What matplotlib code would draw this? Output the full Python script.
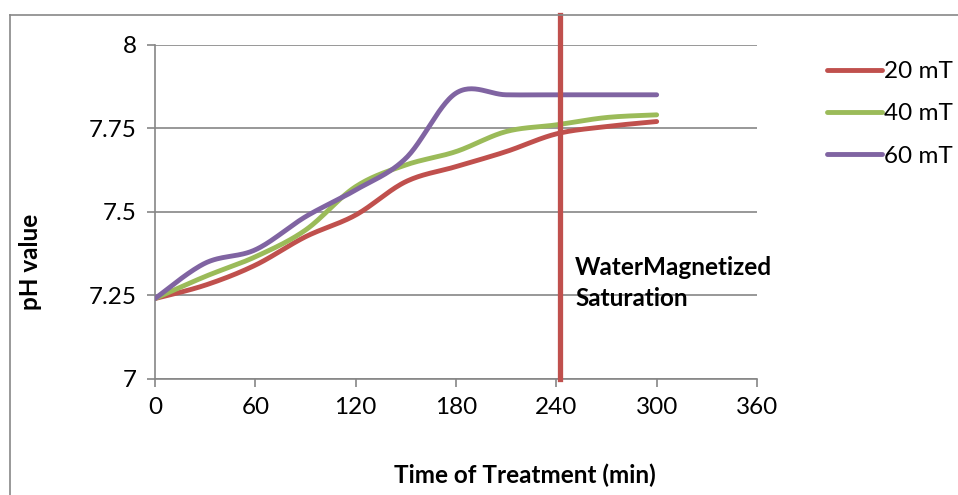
import numpy as np
import matplotlib
matplotlib.use("Agg")
import matplotlib.pyplot as plt
from matplotlib.lines import Line2D

plt.rcParams['font.family'] = ['Lato', 'DejaVu Sans']

time_min = [0, 30, 60, 90, 120, 150, 180, 210, 240, 270, 300]
ph_20mT = [7.24, 7.28, 7.34, 7.425, 7.49, 7.59, 7.635, 7.68, 7.733, 7.755, 7.77]
ph_40mT = [7.24, 7.306, 7.365, 7.445, 7.575, 7.64, 7.68, 7.74, 7.76, 7.782, 7.79]
ph_60mT = [7.24, 7.346, 7.386, 7.485, 7.565, 7.66, 7.855, 7.85, 7.85, 7.85, 7.85]
series_labels = ["20 mT", "40 mT", "60 mT"]
colors = ["#C0504D", "#9BBB59", "#8064A2"]
x_ticks = [0, 60, 120, 180, 240, 300, 360]
y_ticks = [7, 7.25, 7.5, 7.75, 8]
y_tick_labels = ["7", "7.25", "7.5", "7.75", "8"]
saturation_time = 242
annotation = "WaterMagnetized\nSaturation"

FS = 17.5


def smooth(x, y, n=30):
    """Excel-style smoothed line (Catmull-Rom Bezier) through the data points."""
    x = np.asarray(x, float)
    y = np.asarray(y, float)
    px = np.concatenate([[x[0]], x, [x[-1]]])
    py = np.concatenate([[y[0]], y, [y[-1]]])
    xs, ys = [], []
    t = np.linspace(0, 1, n)
    for i in range(1, len(px) - 2):
        p0 = np.array([px[i], py[i]])
        p3 = np.array([px[i + 1], py[i + 1]])
        c1 = p0 + (np.array([px[i + 1], py[i + 1]]) - np.array([px[i - 1], py[i - 1]])) / 6
        c2 = p3 - (np.array([px[i + 2], py[i + 2]]) - np.array([px[i], py[i]])) / 6
        b = ((1 - t) ** 3)[:, None] * p0 + (3 * (1 - t) ** 2 * t)[:, None] * c1 \
            + (3 * (1 - t) * t ** 2)[:, None] * c2 + (t ** 3)[:, None] * p3
        xs.extend(b[:, 0])
        ys.extend(b[:, 1])
    return np.array(xs), np.array(ys)


W, H = 958, 495
fig = plt.figure(figsize=(W / 100, H / 100), dpi=100)
ax = fig.add_axes([155 / W, 1 - 378.7 / H, (757 - 155) / W, (378.7 - 44.7) / H])

grid_c = "#868686"
for yv in y_ticks:
    ax.axhline(yv, color=grid_c, lw=1.2, zorder=1)

handles = []
for ys, lab, c in zip([ph_20mT, ph_40mT, ph_60mT], series_labels, colors):
    sx, sy = smooth(time_min, ys)
    ln, = ax.plot(sx, sy, color=c, lw=3.5, solid_capstyle='round', label=lab, zorder=3)
    handles.append(ln)

ax.set_xlim(0, 360)
ax.set_ylim(7, 8)
ax.set_xticks(x_ticks)
ax.set_xticklabels([str(v) for v in x_ticks], fontsize=FS)
ax.set_yticks(y_ticks)
ax.set_yticklabels(y_tick_labels, fontsize=FS)
for s in ['top', 'right']:
    ax.spines[s].set_visible(False)
for s in ['left', 'bottom']:
    ax.spines[s].set_color(grid_c)
    ax.spines[s].set_linewidth(1.2)
ax.tick_params(axis='both', direction='out', length=6, width=1.2, color=grid_c, pad=7)

# saturation marker
ax.plot([saturation_time, saturation_time], [7, 8 + (44.7 - 15) / 334], color="#C0504D",
        lw=3.8, clip_on=False, zorder=4)
fig.text(575 / W, 1 - 283 / H, annotation, fontsize=FS, fontweight='bold',
         ha='left', va='center', linespacing=1.38, zorder=5)

fig.text(30 / W, 1 - 262 / H, "pH value", rotation=90, fontsize=FS, fontweight='bold',
         ha='center', va='center')
fig.text(525 / W, 1 - 475 / H, "Time of Treatment (min)", fontsize=FS, fontweight='bold',
         ha='center', va='center')

# frame
fig.add_artist(Line2D([10 / W, 1], [1 - 15 / H, 1 - 15 / H], color="#888888", lw=1.2))
fig.add_artist(Line2D([10 / W, 10 / W], [0, 1 - 15 / H], color="#888888", lw=1.2))

leg = fig.legend(handles=handles, labels=series_labels, loc='upper left',
                 bbox_to_anchor=(827 / W, 1 - 61 / H), frameon=False, fontsize=FS,
                 handlelength=2.25, handletextpad=0.1, labelspacing=0.88,
                 borderpad=0, borderaxespad=0)

fig.savefig("out.png", dpi=100)
